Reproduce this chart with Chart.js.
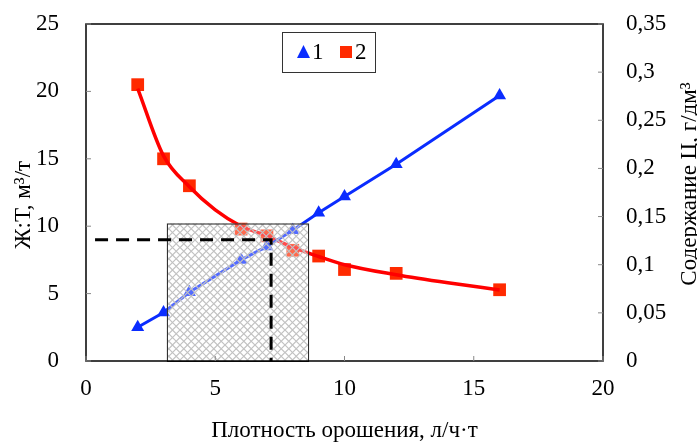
<!DOCTYPE html>
<html>
<head>
<meta charset="utf-8">
<script src="https://cdn.jsdelivr.net/npm/chart.js@4.4.1/dist/chart.umd.min.js"></script>
<style>
  html, body { margin: 0; padding: 0; background: #fff; }
  #wrap { width: 697px; height: 443px; position: relative; }
</style>
</head>
<body>
<div id="wrap"><canvas id="myChart" width="697" height="443"></canvas></div>
<script>
// irrigation density, l/(h*t)
const xValues = [2, 3, 4, 6, 7, 8, 9, 10, 12, 16];
// series 1: Ж:Т, m3/t (left axis)
const ratioJT = [2.5, 3.6, 5.1, 7.5, 8.5, 9.7, 11.0, 12.2, 14.6, 19.7];
// series 2: content C, g/dm3 (right axis)
const contentC = [0.287, 0.21, 0.182, 0.137, 0.13, 0.115, 0.109, 0.095, 0.091, 0.074];
// smoothed curve of series 2
const trendX = [2, 3, 4, 5, 6, 7, 8, 9, 10, 12, 14, 16];
const trendC = [0.283, 0.213, 0.181, 0.157, 0.140, 0.130, 0.118, 0.1085, 0.100, 0.0896, 0.0812, 0.0738];

const seriesNames = ["1", "2"];
const xTitle = "Плотность орошения, л/ч·т";
const yTitle = "Ж:Т, м³/т";
const y2Title = "Содержание Ц, г/дм³";

// hatched zone and the dashed guide
const zoneX = [3.13, 8.59];
const zoneY = [0, 10.2];
const guideX = 7.16;
const guideY = 9;
const guideStartX = 0.35;

const FONT = "'Liberation Serif', 'Times New Roman', serif";

function hatchPattern(ctx) {
  // two diamond periods (7.5px) per 15px tile
  const c = document.createElement("canvas");
  c.width = 15; c.height = 15;
  const p = c.getContext("2d");
  p.fillStyle = "rgba(255,255,255,0.3)";
  p.fillRect(0, 0, 15, 15);
  p.strokeStyle = "#c2c2c2";
  p.lineWidth = 1.2;
  p.beginPath();
  p.moveTo(0, 0); p.lineTo(15, 15);
  p.moveTo(7.5, 0); p.lineTo(15, 7.5);
  p.moveTo(0, 7.5); p.lineTo(7.5, 15);
  p.moveTo(15, 0); p.lineTo(0, 15);
  p.moveTo(7.5, 0); p.lineTo(0, 7.5);
  p.moveTo(15, 7.5); p.lineTo(7.5, 15);
  p.stroke();
  return ctx.createPattern(c, "repeat");
}

const extras = {
  id: "extras",
  afterDatasetsDraw(chart) {
    const ctx = chart.ctx;
    const a = chart.chartArea;
    const sx = chart.scales.x, sy = chart.scales.y, sy2 = chart.scales.y2;

    // hatched rectangle
    const x0 = sx.getPixelForValue(zoneX[0]), x1 = sx.getPixelForValue(zoneX[1]);
    const y0 = sy.getPixelForValue(zoneY[1]), y1 = sy.getPixelForValue(zoneY[0]);
    ctx.save();
    ctx.fillStyle = hatchPattern(ctx);
    ctx.fillRect(x0, y0, x1 - x0, y1 - y0);
    ctx.strokeStyle = "#222";
    ctx.lineWidth = 1;
    ctx.strokeRect(x0 + 0.5, y0 + 0.5, x1 - x0, y1 - y0);

    // dashed guide
    ctx.strokeStyle = "#000";
    ctx.lineWidth = 3;
    ctx.setLineDash([13, 8]);
    ctx.beginPath();
    ctx.moveTo(sx.getPixelForValue(guideStartX), sy.getPixelForValue(guideY));
    ctx.lineTo(sx.getPixelForValue(guideX), sy.getPixelForValue(guideY));
    ctx.lineTo(sx.getPixelForValue(guideX), sy.getPixelForValue(0));
    ctx.stroke();
    ctx.setLineDash([]);

    // frame
    ctx.strokeStyle = "#000";
    ctx.lineWidth = 1.5;
    ctx.strokeRect(a.left, a.top, a.right - a.left, a.bottom - a.top);

    // inner ticks
    ctx.strokeStyle = "#888";
    ctx.lineWidth = 1;
    ctx.beginPath();
    sx.ticks.forEach(t => {
      const px = sx.getPixelForValue(t.value);
      ctx.moveTo(px, a.bottom); ctx.lineTo(px, a.bottom - 5);
    });
    sy.ticks.forEach(t => {
      const py = sy.getPixelForValue(t.value);
      ctx.moveTo(a.left, py); ctx.lineTo(a.left + 5, py);
    });
    sy2.ticks.forEach(t => {
      const py = sy2.getPixelForValue(t.value);
      ctx.moveTo(a.right, py); ctx.lineTo(a.right - 5, py);
    });
    ctx.stroke();

    // legend
    const lx = 282, ly = 32, lw = 93, lh = 40;
    ctx.fillStyle = "#fff";
    ctx.fillRect(lx, ly, lw, lh);
    ctx.strokeStyle = "#333";
    ctx.strokeRect(lx + 0.5, ly + 0.5, lw, lh);
    ctx.fillStyle = "#0a2cff";
    ctx.beginPath();
    ctx.moveTo(303.5, 45); ctx.lineTo(310, 58); ctx.lineTo(297, 58); ctx.closePath();
    ctx.fill();
    ctx.fillStyle = "#ff2a00";
    ctx.fillRect(340, 46, 12, 12);
    ctx.fillStyle = "#000";
    ctx.font = "23px " + FONT;
    ctx.textBaseline = "middle";
    ctx.textAlign = "left";
    ctx.fillText(seriesNames[0], 312, 53);
    ctx.fillText(seriesNames[1], 355, 53);

    // axis titles
    ctx.textAlign = "center";
    ctx.fillText(xTitle, (a.left + a.right) / 2, 431);
    ctx.save();
    ctx.translate(24, 205);
    ctx.rotate(-Math.PI / 2);
    ctx.fillText(yTitle, 0, 0);
    ctx.restore();
    ctx.save();
    ctx.translate(690, 184);
    ctx.rotate(-Math.PI / 2);
    ctx.fillText(y2Title, 0, 0);
    ctx.restore();
    ctx.restore();
  }
};

function fixVertical(width) {
  return s => {
    s.width = width;
    s.paddingTop = 0;
    s.paddingBottom = 0;
  };
}

const ctx = document.getElementById("myChart").getContext("2d");
new Chart(ctx, {
  type: "line",
  data: {
    datasets: [
      {
        label: seriesNames[0],
        data: xValues.map((x, i) => ({ x: x, y: ratioJT[i] })),
        yAxisID: "y",
        borderColor: "#0a2cff",
        backgroundColor: "#0a2cff",
        borderWidth: 3,
        pointStyle: "triangle",
        pointRadius: 7.5,
        pointBorderWidth: 0,
        tension: 0
      },
      {
        label: "trend 2",
        data: trendX.map((x, i) => ({ x: x, y: trendC[i] })),
        yAxisID: "y2",
        borderColor: "#ff0000",
        borderWidth: 3.5,
        pointRadius: 0,
        cubicInterpolationMode: "monotone"
      },
      {
        label: seriesNames[1],
        data: xValues.map((x, i) => ({ x: x, y: contentC[i] })),
        yAxisID: "y2",
        showLine: false,
        backgroundColor: "#ff2a00",
        pointStyle: "rect",
        pointRadius: 9,
        pointBorderWidth: 0
      }
    ]
  },
  options: {
    responsive: false,
    animation: false,
    layout: { padding: { top: 24, left: 0, right: 0, bottom: 0 } },
    plugins: { legend: { display: false }, tooltip: { enabled: false } },
    scales: {
      x: {
        type: "linear", min: 0, max: 20,
        ticks: { stepSize: 5, color: "#000", padding: 6, font: { family: FONT, size: 23 } },
        grid: { display: false },
        border: { display: false },
        afterFit: s => { s.height = 82; s.paddingLeft = 0; s.paddingRight = 0; }
      },
      y: {
        position: "left", min: 0, max: 25,
        ticks: { stepSize: 5, color: "#000", padding: 19, font: { family: FONT, size: 23 } },
        grid: { display: false },
        border: { display: false },
        afterFit: fixVertical(86)
      },
      y2: {
        position: "right", min: 0, max: 0.35,
        ticks: {
          stepSize: 0.05, color: "#000", padding: 15, font: { family: FONT, size: 23 },
          callback: v => String(Math.round(v * 100) / 100).replace(".", ",")
        },
        grid: { display: false },
        border: { display: false },
        afterFit: fixVertical(94)
      }
    }
  },
  plugins: [extras]
});
</script>
</body>
</html>
